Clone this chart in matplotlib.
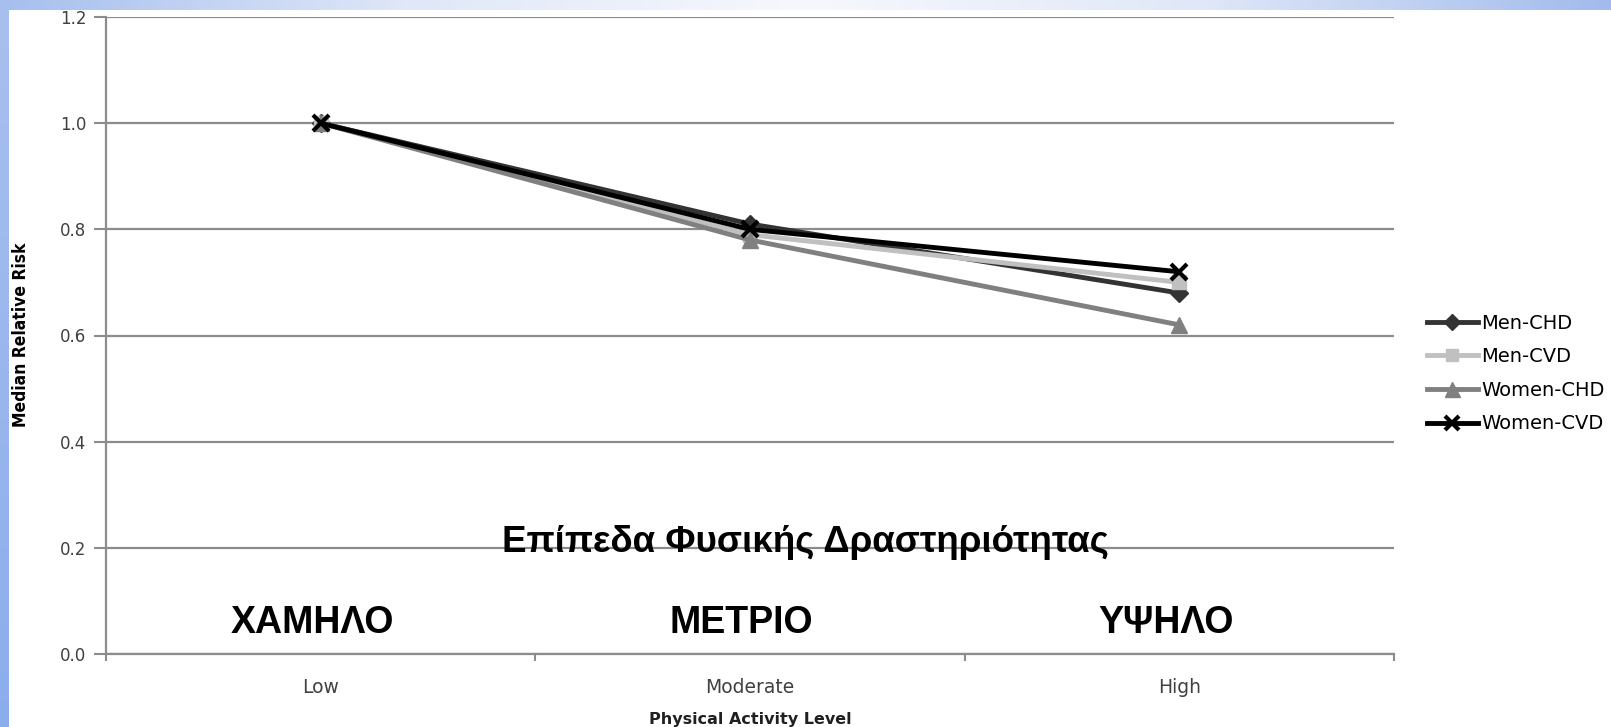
import numpy as np
import matplotlib
matplotlib.use("Agg")
import matplotlib.pyplot as plt
from matplotlib.colors import LinearSegmentedColormap
from matplotlib.ticker import FixedLocator, FormatStrFormatter

categories = ["Low", "Moderate", "High"]
greek_levels = ["ΧΑΜΗΛΟ", "ΜΕΤΡΙΟ", "ΥΨΗΛΟ"]
men_chd = [1.0, 0.81, 0.68]
men_cvd = [1.0, 0.79, 0.70]
women_chd = [1.0, 0.78, 0.62]
women_cvd = [1.0, 0.80, 0.72]

W, H = 1611, 727
fig = plt.figure(figsize=(W / 100, H / 100), dpi=100)
fig.patch.set_facecolor("white")

# slide decoration: gradient strip on top, blue strip on the left
top = fig.add_axes([0, 1 - 10 / H, 1, 10 / H])
cm_top = LinearSegmentedColormap.from_list("top", ["#a6bfee", "#dfe7f8", "#f7f8fd", "#dfe7f8", "#a2bbec"])
top.imshow(np.linspace(0, 1, 256)[None, :], aspect="auto", cmap=cm_top, extent=[0, 1, 0, 1])
top.axis("off")
left = fig.add_axes([0, 0, 9 / W, 1 - 10 / H])
cm_left = LinearSegmentedColormap.from_list("left", ["#a8c0ee", "#8cadec"])
left.imshow(np.linspace(0, 1, 256)[:, None], aspect="auto", cmap=cm_left, extent=[0, 1, 0, 1])
left.axis("off")

ax = fig.add_axes([106 / W, 73 / H, (1394 - 106) / W, (654 - 17) / H])
x = np.arange(len(categories))
grid_c = "#8c8c8c"

ax.plot(x, men_chd, color="#333333", lw=3.5, marker="D", ms=9, label="Men-CHD", zorder=3)
ax.plot(x, men_cvd, color="#c0c0c0", lw=3.5, marker="s", ms=10, label="Men-CVD", zorder=3)
ax.plot(x, women_chd, color="#808080", lw=3.5, marker="^", ms=12, label="Women-CHD", zorder=3)
ax.plot(x, women_cvd, color="#000000", lw=3.5, marker="x", ms=11, mew=3, label="Women-CVD", zorder=4)

ax.set_xlim(-0.5, 2.5)
ax.set_ylim(0, 1.2)
ax.set_yticks(np.arange(0, 1.21, 0.2))
ax.yaxis.set_major_formatter(FormatStrFormatter("%.1f"))
ax.yaxis.grid(True, color=grid_c, lw=1.6)
ax.set_axisbelow(True)
ax.set_xticks(x)
ax.set_xticklabels(categories)
ax.xaxis.set_minor_locator(FixedLocator([-0.5, 0.5, 1.5, 2.5]))
ax.tick_params(axis="x", which="major", length=0, pad=17, labelsize=13.5, labelcolor="#404040")
ax.tick_params(axis="x", which="minor", length=5, width=1.5, color=grid_c)
ax.tick_params(axis="y", length=9, width=1.5, color=grid_c, pad=5, labelsize=12, labelcolor="#404040")
for s in ["top", "right"]:
    ax.spines[s].set_visible(False)
for s in ["left", "bottom"]:
    ax.spines[s].set_color(grid_c)
    ax.spines[s].set_linewidth(1.6)

ax.set_xlabel("Physical Activity Level", fontsize=11.5, fontweight="bold", color="#202020", labelpad=11)
fig.text(21 / W, 1 - 335 / H, "Median Relative Risk", rotation=90, ha="center", va="center",
         fontsize=12.5, fontweight="bold", fontstretch="condensed",
         family=["Liberation Sans Narrow", "DejaVu Sans"])

ax.text(1.13, 0.193, "Επίπεδα Φυσικής Δραστηριότητας", ha="center", va="baseline",
        fontsize=26.5, fontweight="bold", family="Liberation Sans")
for xi, lab in zip([-0.02, 0.98, 1.97], greek_levels):
    ax.text(xi, 0.058, lab, ha="center", va="center", fontsize=27, fontweight="bold",
            family="Liberation Sans")

fig.legend(loc="center left", bbox_to_anchor=(1427 / W, 1 - 373.5 / H), frameon=False,
           fontsize=14, handlelength=2.6, handletextpad=0.2, labelspacing=0.75,
           borderpad=0, borderaxespad=0, markerscale=0.9)

fig.savefig("out.png", dpi=100)
